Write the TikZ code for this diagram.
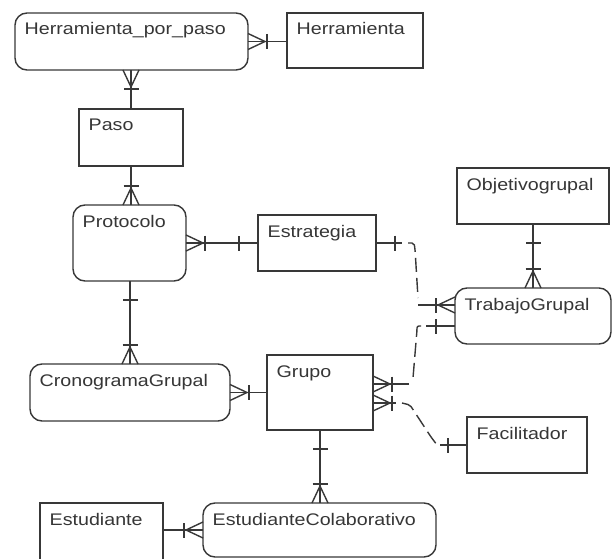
\documentclass[tikz,border=0pt]{standalone}
\usepackage{fontspec}
\setmainfont{Liberation Sans}[FakeStretch=1.17]
\usetikzlibrary{calc}
\definecolor{ink}{HTML}{383838}
\definecolor{txt}{HTML}{363636}

% crow's foot (many) plus a bar at the end #1 of a connector heading to #2
\newcommand\crowend[2]{%
  \coordinate (cwA) at ($(#1)!8pt!90:(#2)$);
  \coordinate (cwB) at ($(#1)!8pt!-90:(#2)$);
  \coordinate (cwT) at ($(#1)!17pt!(#2)$);
  \coordinate (cwK) at ($(#1)!19pt!(#2)$);
  \draw (cwA) -- (cwT) -- (cwB);
  \draw ($(cwK)!7.5pt!90:(#2)$) -- ($(cwK)!7.5pt!-90:(#2)$);}
% single bar (one) near the end #1 of a connector heading to #2
\newcommand\barend[2]{%
  \coordinate (brK) at ($(#1)!19pt!(#2)$);
  \draw ($(brK)!7.5pt!90:(#2)$) -- ($(brK)!7.5pt!-90:(#2)$);}
% entity box: style, name, top-left, bottom-right, title
\newcommand\entity[7][table]{%
  \node[#1, minimum width={#5-#3}, minimum height={#6-#4}, anchor=north west] (#2) at (#3,#4) {};
  \node[title] (#2-t) at ($(#2.north west)+(9,22)$) {#7};}

\begin{document}
\begin{tikzpicture}[x=1pt, y=-1pt, line width=1.4pt, draw=ink,
  table/.style={draw=ink, fill=white, line width=1.4pt, inner sep=0pt, outer sep=0pt},
  weak/.style={table, rounded corners=12pt},
  title/.style={anchor=base west, inner sep=0pt, text=txt, font=\fontsize{16.8}{18}\selectfont},
  dashline/.style={dash pattern=on 14pt off 6pt}]
\useasboundingbox[fill=white] (0,0) rectangle (613,559);

% entities
\entity[weak]{hpp}{15}{13}{248}{70}{Herramienta\_por\_paso}
\entity{herr}{287}{13}{423}{68}{Herramienta}
\entity{paso}{79}{109}{183}{166}{Paso}
\entity[weak]{proto}{73}{205}{186}{281}{Protocolo}
\entity{estr}{258}{215}{376}{271}{Estrategia}
\entity{obj}{457}{168}{609}{224}{Objetivogrupal}
\entity[weak]{tg}{455}{288}{611}{344}{TrabajoGrupal}
\entity[weak]{crono}{30}{364}{230}{421}{CronogramaGrupal}
\entity{grupo}{267}{355}{373}{430}{Grupo}
\entity{facil}{467}{417}{587}{473}{Facilitador}
\entity{estu}{40}{503}{163}{562}{Estudiante}
\entity[weak]{ec}{203}{503}{436}{557}{EstudianteColaborativo}

% Herramienta_por_paso -- Herramienta
\coordinate (hrA) at (hpp.east -| herr.west);
\draw (hpp.east) -- (hrA);
\crowend{hpp.east}{hrA}

% Paso -- Herramienta_por_paso
\coordinate (psA) at (paso.north |- hpp.south);
\draw (paso.north) -- (psA);
\crowend{psA}{paso.north}

% Paso -- Protocolo
\coordinate (ppA) at (paso.south |- proto.north);
\draw (paso.south) -- (ppA);
\crowend{ppA}{paso.south}

% Protocolo -- Estrategia
\coordinate (peA) at (proto.east -| estr.west);
\draw (proto.east) -- (peA);
\crowend{proto.east}{peA}
\barend{peA}{proto.east}

% Protocolo -- CronogramaGrupal
\coordinate (pcA) at (crono.north |- proto.south);
\draw (pcA) -- (crono.north);
\barend{pcA}{crono.north}
\crowend{crono.north}{pcA}

% CronogramaGrupal -- Grupo
\coordinate (cgA) at (crono.east -| grupo.west);
\draw (crono.east) -- (cgA);
\crowend{crono.east}{cgA}

% Objetivogrupal -- TrabajoGrupal
\coordinate (otA) at (obj.south |- tg.north);
\draw (obj.south) -- (otA);
\barend{obj.south}{otA}
\crowend{otA}{obj.south}

% Grupo -- EstudianteColaborativo
\coordinate (geA) at (grupo.south |- ec.north);
\draw (grupo.south) -- (geA);
\barend{grupo.south}{geA}
\crowend{geA}{grupo.south}

% Estudiante -- EstudianteColaborativo
\coordinate (seA) at (ec.west -| estu.east);
\draw (seA) -- (ec.west);
\crowend{ec.west}{seA}

% Estrategia -- TrabajoGrupal (dashed)
\coordinate (etA) at ($(estr.east)+(26,0)$);
\coordinate (etB) at ($(tg.north west)+(0,17)$);
\coordinate (etC) at ($(etB)+(-37,0)$);
\draw (estr.east) -- (etA);
\barend{estr.east}{etA}
\draw[dashline, rounded corners=2pt] ($(etA)+(6,0)$) -- ($(etA)+(12,0)$) -- ($(etA)+(13,6)$) -- ($(etC)+(0,-7)$);
\draw (etC) -- (etB);
\crowend{etB}{etC}

% TrabajoGrupal -- Grupo (dashed)
\coordinate (tgA) at ($(tg.north west)+(0,38)$);
\coordinate (tgB) at ($(tgA)+(-29,0)$);
\coordinate (tgC) at ($(grupo.north east)+(0,29)$);
\coordinate (tgD) at ($(tgC)+(36,0)$);
\draw (tgA) -- (tgB);
\barend{tgA}{tgB}
\draw[dashline, rounded corners=2pt] ($(tgB)+(-5,0)$) -- ($(tgB)+(-9,0)$) -- ($(tgB)+(-9,4)$) -- ($(tgD)+(4,-6)$);
\draw (tgD) -- (tgC);
\crowend{tgC}{tgD}

% Grupo -- Facilitador (dashed)
\coordinate (gfA) at ($(grupo.north east)+(0,48)$);
\coordinate (gfB) at ($(gfA)+(23,0)$);
\coordinate (gfC) at ($(facil.west)+(-27,0)$);
\draw (gfA) -- (gfB);
\crowend{gfA}{gfB}
\draw[dashline, rounded corners=2pt] ($(gfB)+(6,0)$) -- ($(gfB)+(14,2)$) -- ($(gfC)+(-9,-8)$) -- ($(gfC)+(-3,0)$);
\draw (gfC) -- (facil.west);
\barend{facil.west}{gfC}
\end{tikzpicture}
\end{document}
